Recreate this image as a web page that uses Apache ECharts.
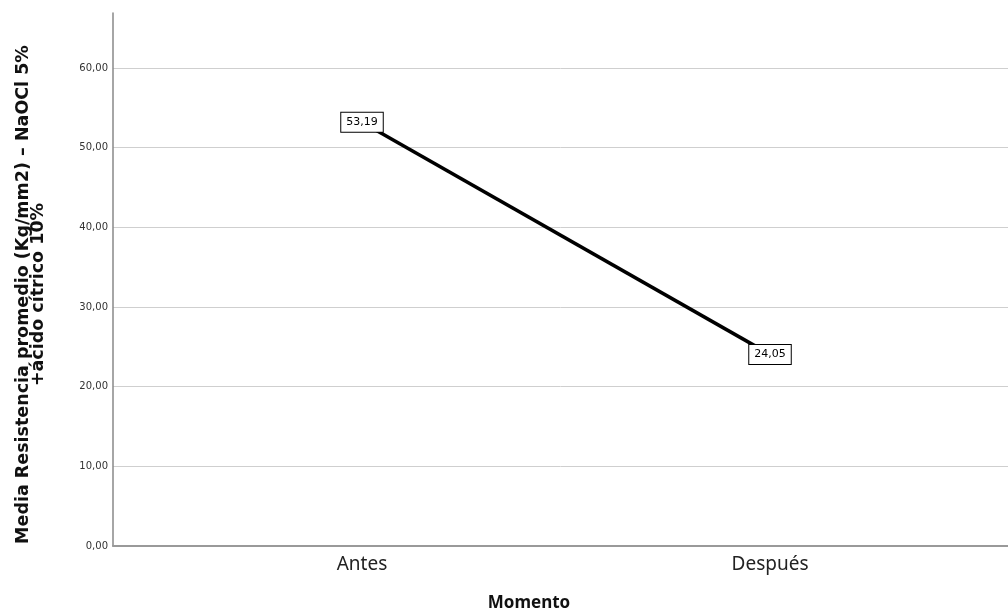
<!DOCTYPE html>
<html>
<head>
<meta charset="utf-8">
<script src="https://cdn.jsdelivr.net/npm/echarts@6/dist/echarts.min.js"></script>
<style>html,body{margin:0;padding:0;background:#fff}#c{width:1008px;height:611px}</style>
</head>
<body>
<div id="c"></div>
<script>
const categories = ['Antes', 'Después'];
const values = [53.19, 24.05];
const yTicks = [0, 10, 20, 30, 40, 50, 60];

const fmt = v => v.toFixed(2).replace('.', ',');
const chart = echarts.init(document.getElementById('c'));
const data = values.map((v, i) => [i + 1, v]);

chart.setOption({
  animation: false,
  grid: { left: 113, right: 0, top: 13, bottom: 65, containLabel: false, outerBoundsMode: 'none' },
  xAxis: {
    type: 'value',
    min: 0.3897,
    max: 2.5833,
    splitLine: { show: false },
    axisLine: { show: true, lineStyle: { color: '#999', width: 2 } },
    axisTick: { show: false },
    axisLabel: {
      customValues: categories.map((c, i) => i + 1),
      formatter: v => categories[Math.round(v) - 1] || '',
      fontSize: 19, color: '#222', fontFamily: 'Noto Sans', margin: 9
    },
    name: 'Momento',
    nameLocation: 'middle',
    nameGap: 49,
    nameTextStyle: { fontSize: 17, fontWeight: 'bold', color: '#111', fontFamily: 'Noto Sans', padding: [0, 63, 0, 0] }
  },
  yAxis: {
    type: 'value',
    min: 0,
    max: 66.9,
    interval: 10,
    axisLine: { show: true, lineStyle: { color: '#888', width: 1.5 } },
    axisTick: { show: false },
    splitLine: { show: true, lineStyle: { color: ['#cfcfcf','#cfcfcf','#cfcfcf','#cfcfcf','#cfcfcf','#cfcfcf','#cfcfcf','rgba(0,0,0,0)'], width: 1 } },
    axisLabel: {
      showMaxLabel: false,
      formatter: v => yTicks.includes(v) ? fmt(v) : '',
      fontSize: 10, color: '#333', fontFamily: 'DejaVu Sans', margin: 5
    },
    name: 'Media Resistencia promedio (Kg/mm2) – NaOCl 5%\n+ácido cítrico 10%',
    nameLocation: 'middle',
    nameRotate: 90,
    nameGap: 67,
    nameTextStyle: { fontSize: 17.5, fontWeight: 'bold', color: '#111', fontFamily: 'DejaVu Sans', lineHeight: 15, padding: [0, 30, 0, 0] }
  },
  series: [{
    type: 'line',
    data: data,
    symbol: 'circle',
    symbolSize: 1,
    itemStyle: { color: '#000' },
    lineStyle: { color: '#000', width: 3.5 },
    label: {
      show: true,
      position: 'inside',
      formatter: p => fmt(p.value[1]),
      fontSize: 11, color: '#000', fontFamily: 'DejaVu Sans',
      backgroundColor: '#fff', borderColor: '#000', borderWidth: 1,
      padding: [3, 5, 3, 5], lineHeight: 13
    }
  }]
});
</script>
</body>
</html>
